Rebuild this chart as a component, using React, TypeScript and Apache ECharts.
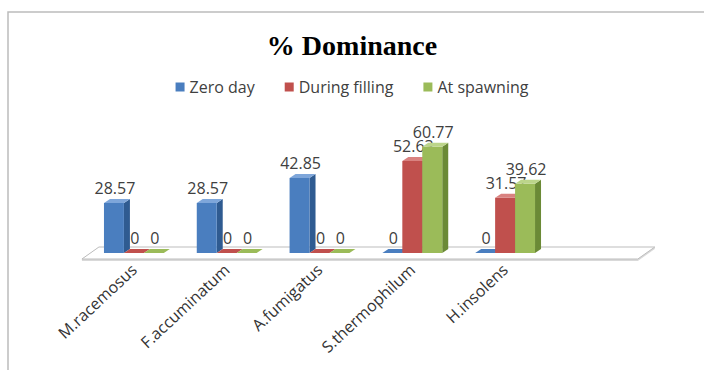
import React, { useEffect, useRef } from "react";
import * as echarts from "echarts";

// Fungal species and their % dominance at three sampling stages
const species = ["M.racemosus", "F.accuminatum", "A.fumigatus", "S.thermophilum", "H.insolens"];
const zeroDay = [28.57, 28.57, 42.85, 0, 0];
const duringFilling = [0, 0, 0, 52.63, 31.57];
const atSpawning = [0, 0, 0, 60.77, 39.62];
const seriesNames = ["Zero day", "During filling", "At spawning"];

// front / side / top face colours for the pseudo-3D columns
const faces = [
  { front: "#4a7ebf", side: "#2f5b91", top: "#7ea6da" },
  { front: "#c0504d", side: "#8b3230", top: "#d98280" },
  { front: "#9bbb59", side: "#6b8a36", top: "#bcd58a" },
];

const DEPTH_X = 6;
const DEPTH_Y = -4;
const BAR_FRAC = 0.215;
const LABEL_FONT = "Open Sans";

function barRenderer(idx: number) {
  return (params: any, api: any) => {
    const cat = api.value(0);
    const val = api.value(1);
    const base = api.coord([cat, 0]);
    const top = api.coord([cat, val]);
    const band = api.size([1, 0])[0];
    const w = band * BAR_FRAC;
    const x0 = base[0] - 1.5 * w + idx * w;
    const x1 = x0 + w;
    const yb = base[1];
    const yt = top[1];
    const c = faces[idx];
    return {
      type: "group",
      children: [
        {
          type: "polygon",
          shape: { points: [[x1, yt], [x1 + DEPTH_X, yt + DEPTH_Y], [x1 + DEPTH_X, yb + DEPTH_Y], [x1, yb]] },
          style: { fill: c.side },
        },
        {
          type: "rect",
          shape: { x: x0, y: yt, width: w, height: Math.max(yb - yt, 0) },
          style: { fill: c.front },
        },
        {
          type: "polygon",
          shape: { points: [[x0, yt], [x0 + DEPTH_X, yt + DEPTH_Y], [x1 + DEPTH_X, yt + DEPTH_Y], [x1, yt]] },
          style: { fill: val > 0 ? c.top : c.front },
        },
        {
          type: "text",
          style: {
            text: String(val),
            x: x0 + w / 2 + 1,
            y: yt - 7,
            align: "center",
            verticalAlign: "bottom",
            fontSize: 16,
            fontFamily: LABEL_FONT,
            fill: "#404040",
          },
        },
      ],
    };
  };
}

// floor plane beneath the columns, sized from the category band
function floorRenderer(params: any, api: any) {
  const first = api.coord([0, 0]);
  const last = api.coord([species.length - 1, 0]);
  const band = api.size([1, 0])[0];
  const y0 = first[1];
  const xl = first[0] - band * 0.56;
  const xr = last[0] + band * 1.43;
  const yf = y0 + 6;
  const yk = y0 - 6;
  const sk = 17;
  return {
    type: "group",
    children: [
      {
        type: "polygon",
        shape: { points: [[xl, yf + 2], [xr, yf + 2], [xr + sk, yk + 2], [xr + sk, yk], [xl + sk, yk], [xl, yf]] },
        style: { fill: "#d9d9d9" },
      },
      {
        type: "polygon",
        shape: { points: [[xl, yf], [xr, yf], [xr + sk, yk], [xl + sk, yk]] },
        style: { fill: "#ffffff", stroke: "#bdbdbd", lineWidth: 1 },
      },
    ],
  };
}

export default function App() {
  const ref = useRef<HTMLDivElement>(null);

  useEffect(() => {
    if (!ref.current) return;
    const chart = echarts.init(ref.current, null, { renderer: "svg" });
    const values = [zeroDay, duringFilling, atSpawning];
    chart.setOption({
      animation: false,
      backgroundColor: "#ffffff",
      color: faces.map((f) => f.front),
      title: {
        text: "% Dominance",
        left: "center",
        top: 26,
        textStyle: {
          fontFamily: "Liberation Serif",
          fontWeight: "bold",
          fontSize: 28,
          color: "#000000",
        },
      },
      legend: {
        data: seriesNames,
        top: 74,
        left: "center",
        icon: "rect",
        itemWidth: 9,
        itemHeight: 9,
        itemGap: 30,
        textStyle: { fontFamily: LABEL_FONT, fontSize: 16, color: "#404040" },
      },
      graphic: [
        {
          type: "rect",
          shape: { x: 8, y: 12, width: 720, height: 400 },
          style: { fill: "none", stroke: "#bcbcbc", lineWidth: 1.5 },
          silent: true,
        },
      ],
      grid: { left: 87.5, right: 152.5, top: 113, bottom: 117, containLabel: false },
      xAxis: {
        type: "category",
        data: species,
        axisLine: { show: false },
        axisTick: { show: false },
        axisLabel: {
          rotate: 43,
          margin: 14,
          interval: 0,
          fontFamily: LABEL_FONT,
          fontSize: 16,
          color: "#333333",
        },
      },
      yAxis: {
        type: "value",
        min: 0,
        max: 80,
        show: false,
        splitLine: { show: false },
      },
      series: [
        {
          type: "custom",
          name: "floor",
          renderItem: floorRenderer,
          data: [[0, 0]],
          encode: { x: 0, y: 1 },
          clip: false,
          silent: true,
          z: 1,
        },
        ...seriesNames.map((name, i) => ({
          type: "custom",
          name,
          renderItem: barRenderer(i),
          itemStyle: { color: faces[i].front },
          data: values[i].map((v, k) => [k, v]),
          encode: { x: 0, y: 1 },
          clip: false,
          z: 2 + i,
        })),
      ],
    });
    return () => chart.dispose();
  }, []);

  return (
    <div
      ref={ref}
      style={{ position: "absolute", left: 0, top: 0, width: 704, height: 370 }}
    />
  );
}
